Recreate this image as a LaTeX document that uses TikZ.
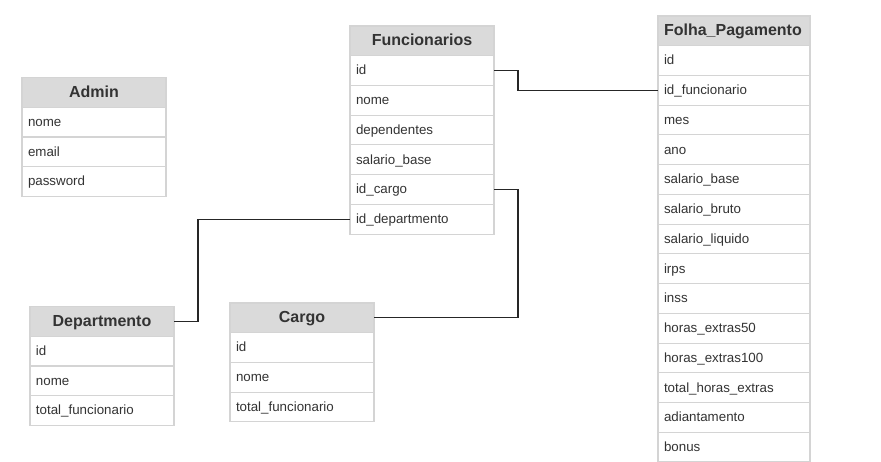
\documentclass[tikz,border=0pt]{standalone}
\usepackage{fontspec}
\setmainfont{Liberation Sans}
\usepackage{tikz}
\usetikzlibrary{shapes,arrows,positioning}
\definecolor{txtgray}{RGB}{51, 51, 51}
\definecolor{headgray}{RGB}{218, 218, 218}
\definecolor{bordergray}{RGB}{212, 212, 212}
\tikzstyle{thead} = [rectangle, draw=bordergray, line width=0.8pt, fill=headgray, text=txtgray, font=\bfseries\fontsize{12}{14}\selectfont, minimum width=108pt, minimum height=22.3pt, text height=9.5pt, text depth=2pt, inner sep=0pt, outer sep=0pt, anchor=north west]
\tikzstyle{trow} = [rectangle, draw=bordergray, line width=0.8pt, fill=white, text=txtgray, font=\fontsize{10}{12}\selectfont, text width=99pt, align=left, minimum height=22.3pt, text height=8.5pt, text depth=2pt, inner xsep=4.5pt, inner ysep=0pt, outer sep=0pt]
\tikzstyle{wide} = [minimum width=114pt, text width=105pt]
\tikzstyle{tedge} = [draw, black!85, line width=0.8pt]

\begin{document}
\begin{tikzpicture}[x=0.75pt, y=-0.75pt]
\useasboundingbox (0,0) rectangle (881,461);

% Admin ==================================
\node[thead] (admin) at (22,77.5) {Admin};
\node[trow, below=0pt of admin] (anome) {nome};
\node[trow, below=0pt of anome] (aemail) {email};
\node[trow, below=0pt of aemail] (apass) {password};

% Funcionarios ===========================
\node[thead] (func) at (350,26) {Funcionarios};
\node[trow, below=0pt of func] (fid) {id};
\node[trow, below=0pt of fid] (fnome) {nome};
\node[trow, below=0pt of fnome] (fdep) {dependentes};
\node[trow, below=0pt of fdep] (fsal) {salario\_base};
\node[trow, below=0pt of fsal] (fcargo) {id\_cargo};
\node[trow, below=0pt of fcargo] (fdept) {id\_departmento};

% Folha_Pagamento ========================
\node[thead, wide] (folha) at (658,16) {Folha\_Pagamento};
\node[trow, wide, below=0pt of folha] (pid) {id};
\node[trow, wide, below=0pt of pid] (pfunc) {id\_funcionario};
\node[trow, wide, below=0pt of pfunc] (pmes) {mes};
\node[trow, wide, below=0pt of pmes] (pano) {ano};
\node[trow, wide, below=0pt of pano] (psbase) {salario\_base};
\node[trow, wide, below=0pt of psbase] (psbruto) {salario\_bruto};
\node[trow, wide, below=0pt of psbruto] (psliq) {salario\_liquido};
\node[trow, wide, below=0pt of psliq] (pirps) {irps};
\node[trow, wide, below=0pt of pirps] (pinss) {inss};
\node[trow, wide, below=0pt of pinss] (ph50) {horas\_extras50};
\node[trow, wide, below=0pt of ph50] (ph100) {horas\_extras100};
\node[trow, wide, below=0pt of ph100] (ptotal) {total\_horas\_extras};
\node[trow, wide, below=0pt of ptotal] (padiant) {adiantamento};
\node[trow, wide, below=0pt of padiant] (pbonus) {bonus};

% Departmento ============================
\node[thead] (dept) at (30,306.5) {Departmento};
\node[trow, below=0pt of dept] (did) {id};
\node[trow, below=0pt of did] (dnome) {nome};
\node[trow, below=0pt of dnome] (dtotal) {total\_funcionario};

% Cargo ==================================
\node[thead] (cargo) at (230,303) {Cargo};
\node[trow, below=0pt of cargo] (cid) {id};
\node[trow, below=0pt of cid] (cnome) {nome};
\node[trow, below=0pt of cnome] (ctotal) {total\_funcionario};

% edges
\path[tedge] (fid.east) -- ++(24,0) |- (pfunc.west);
\path[tedge] (fcargo.east) -- ++(24,0) |- (cargo.east);
\path[tedge] (fdept.west) -- ++(-152,0) |- (dept.east);

\end{tikzpicture}
\end{document}
